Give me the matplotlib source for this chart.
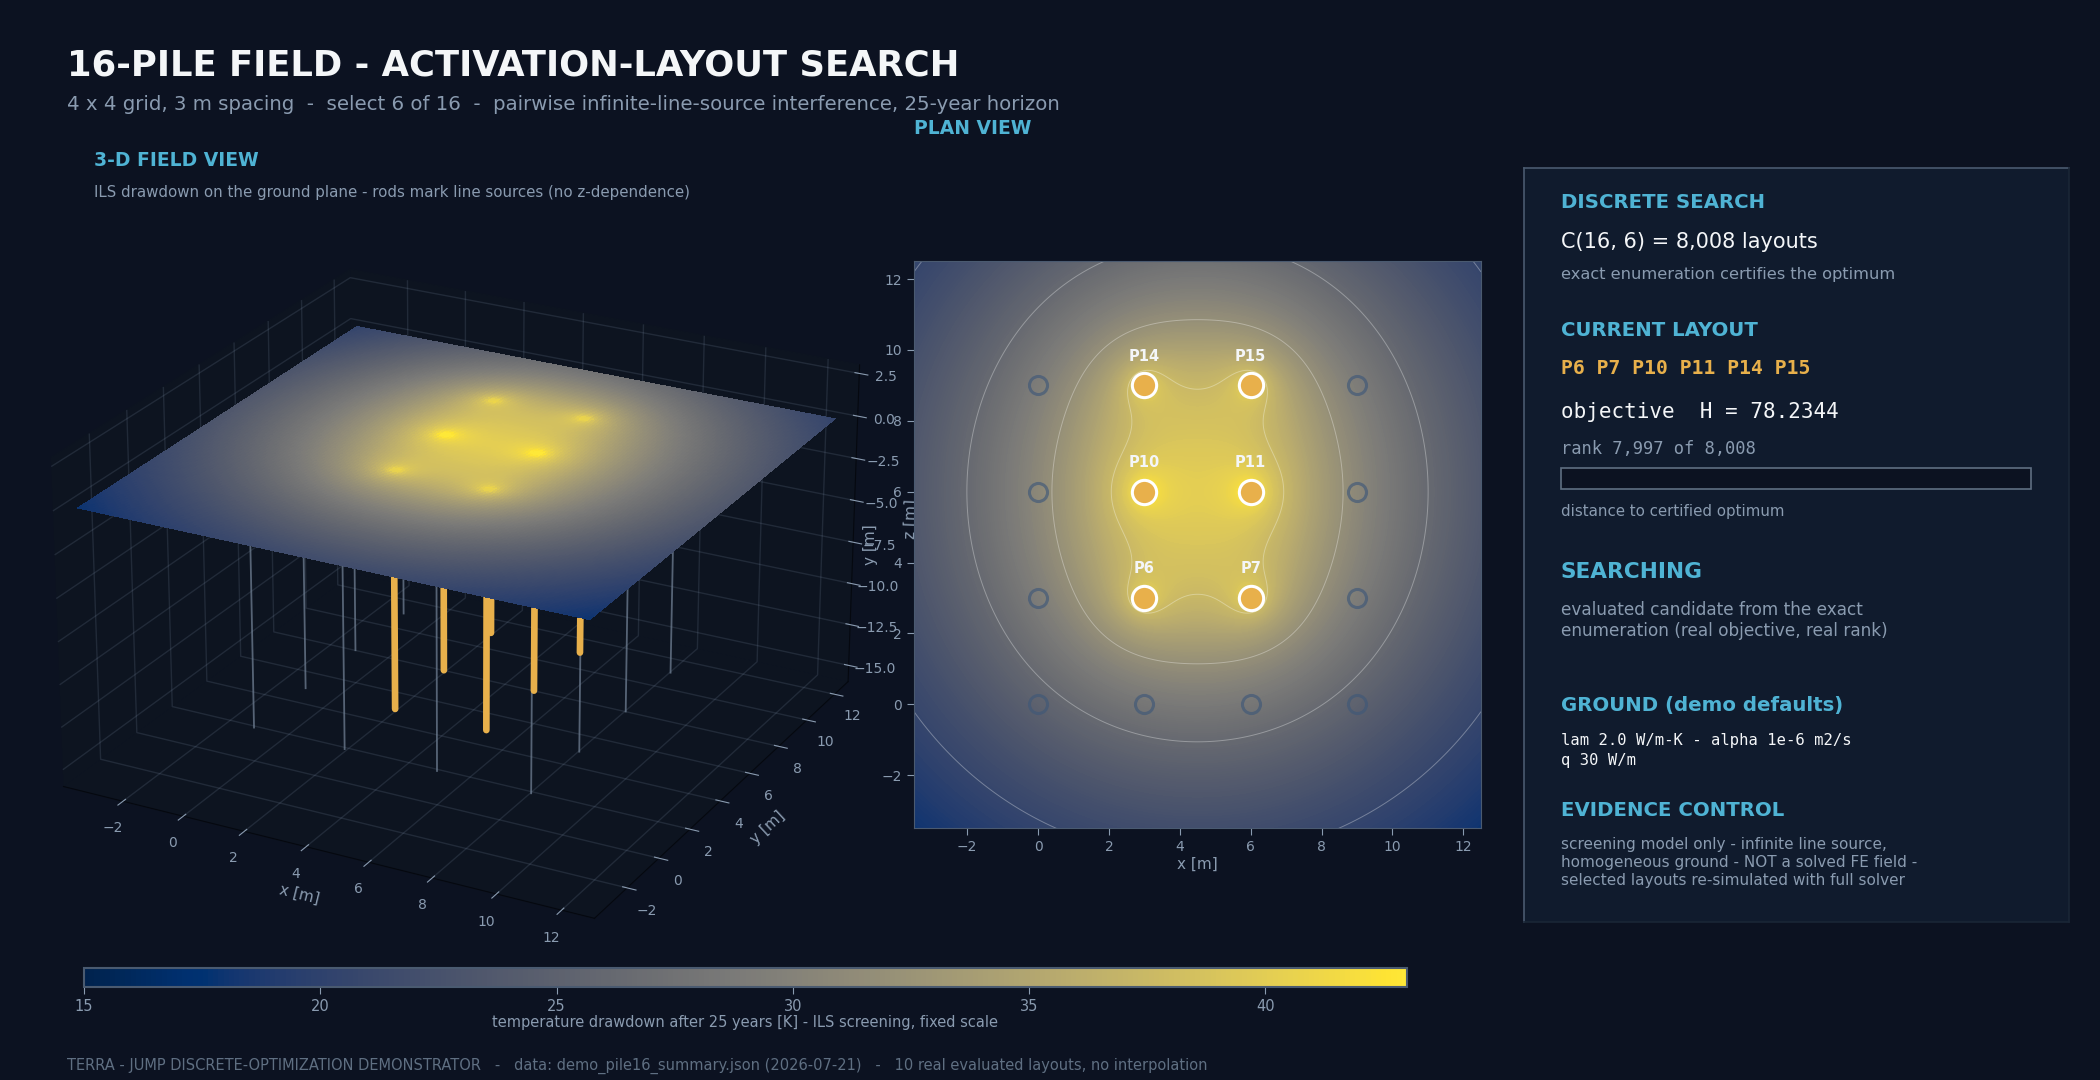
import numpy as np
import matplotlib
matplotlib.use("Agg")
import matplotlib.pyplot as plt
from matplotlib.cm import ScalarMappable
from matplotlib.colors import Normalize
from matplotlib.lines import Line2D
from matplotlib.patches import Rectangle

# ---- data ----
grid_x = [0, 3, 6, 9]
grid_y = [0, 3, 6, 9]
active_names = ["P6", "P7", "P10", "P11", "P14", "P15"]
active_x = [3, 6, 3, 6, 3, 6]
active_y = [3, 3, 6, 6, 9, 9]
lam = 2.0          # W/m-K, printed in the panel
alpha_g = 1e-6     # m2/s, printed in the panel
q = 30.0           # W/m, printed in the panel
years = 25         # printed in the subtitle
r_pile = 0.15      # estimated so the peak meets the top of the colour scale
vmin, vmax = 15.0, 43.0
cbar_ticks = [15, 20, 25, 30, 35, 40]
rod_bottom = -14.0
z_ticks = [-15, -12.5, -10, -7.5, -5, -2.5, 0, 2.5]
xy_ticks = [-2, 0, 2, 4, 6, 8, 10, 12]

BG = "#0c1221"; PANEL = "#101b2d"; ACC = "#4fb3d4"; ORG = "#e8b04b"
TXT = "#8a9bb0"; WHITE = "#f4f6f8"; EDGE = "#4a5a70"; DIM = "#5f6f82"

W, H = 2100, 1080
fig = plt.figure(figsize=(21, 10.8), dpi=100, facecolor=BG)
def fx(p): return p / W
def fy(p): return 1 - p / H
def T(px, py, s, **k):
    k.setdefault("va", "center"); k.setdefault("ha", "left")
    fig.text(fx(px), fy(py), s, **k)

# ILS field as defined by the chart's own stated model
def e1(u):
    return -0.5772156649 - np.log(u) + u - u**2 / 4 + u**3 / 18
xs = np.linspace(-3.5, 12.5, 321)
X, Y = np.meshgrid(xs, xs)
t_sec = years * 365.25 * 86400
F = np.zeros_like(X)
for ax_, ay_ in zip(active_x, active_y):
    r = np.maximum(np.hypot(X - ax_, Y - ay_), r_pile)
    F += q / (4 * np.pi * lam) * e1(r**2 / (4 * alpha_g * t_sec))
cmap = plt.get_cmap("cividis")
norm = Normalize(vmin, vmax)

# ---- 3D view ----
ax3 = fig.add_axes([0.0067, 0.0511, 0.418, 0.813], projection="3d", computed_zorder=False)
ax3.set_facecolor(BG)
ax3.set_box_aspect((1, 1, 0.6))
ax3.view_init(elev=24, azim=-62)
for x in grid_x:
    for y in grid_y:
        ax3.plot([x, x], [y, y], [rod_bottom, 0], color="#6f7f93", lw=1.3, alpha=0.75, zorder=1)
for x, y in zip(active_x, active_y):
    ax3.plot([x, x], [y, y], [rod_bottom, 0], color=ORG, lw=4.8, solid_capstyle="round", zorder=2)
ax3.plot_surface(X, Y, np.zeros_like(X), facecolors=cmap(norm(F)), rstride=2, cstride=2,
                 shade=False, linewidth=0, antialiased=False, zorder=3)
ax3.set_xlim(-4, 13); ax3.set_ylim(-4, 13); ax3.set_zlim(-16, 3)
ax3.set_xticks(xy_ticks); ax3.set_yticks(xy_ticks); ax3.set_zticks(z_ticks)
ax3.tick_params(colors=TXT, labelsize=10)
for a, l in ((ax3.xaxis, "x [m]"), (ax3.yaxis, "y [m]"), (ax3.zaxis, "z [m]")):
    a.set_pane_color((0.051, 0.078, 0.125, 1))
    a.line.set_color("#05080f")
    a._axinfo["grid"].update(color=(0.55, 0.62, 0.72, 0.16), linewidth=1.0)
    a._axinfo["tick"]["color"] = "#c8d2de"
    a.set_label_text(l, color=TXT, fontsize=11)

# ---- plan view ----
ax = fig.add_axes([fx(914), fy(828.4), 567 / W, 567 / H])
ax.set_facecolor(PANEL)
ax.contourf(X, Y, F, levels=np.linspace(vmin, vmax, 225), cmap=cmap, norm=norm, extend="both")
ax.contour(X, Y, F, levels=np.linspace(vmin, vmax, 6)[1:-1], colors="white", linewidths=0.7, alpha=0.32)
for x in grid_x:
    for y in grid_y:
        if not any(x == a and y == b for a, b in zip(active_x, active_y)):
            ax.plot(x, y, "o", ms=13, mfc="none", mec="#3f5878", mew=2.2, alpha=0.65)
for n, x, y in zip(active_names, active_x, active_y):
    ax.plot(x, y, "o", ms=17.5, mfc=ORG, mec="white", mew=2.2)
    ax.annotate(n, (x, y), xytext=(0, 21), textcoords="offset points", ha="center", va="center",
                color=WHITE, fontsize=10.5, fontweight="bold")
ax.set_xlim(-3.5, 12.5); ax.set_ylim(-3.5, 12.5)
ax.set_xticks(xy_ticks); ax.set_yticks(xy_ticks)
ax.tick_params(colors=TXT, labelsize=10, length=5)
ax.set_xlabel("x [m]", color=TXT, fontsize=11, labelpad=2)
ax.set_ylabel("y [m]", color=TXT, fontsize=11, labelpad=3)
for s in ax.spines.values():
    s.set_color(EDGE)

# ---- colour bar ----
cax = fig.add_axes([fx(84), fy(987), 1323 / W, 19 / H])
cb = fig.colorbar(ScalarMappable(norm, cmap), cax=cax, orientation="horizontal")
cb.set_ticks(cbar_ticks)
cb.ax.tick_params(colors=TXT, labelsize=10.5, length=5)
cb.outline.set_edgecolor(EDGE); cb.outline.set_linewidth(1.5)
T(745, 1022, "temperature drawdown after 25 years [K] - ILS screening, fixed scale",
  color=TXT, fontsize=10.5, ha="center")

# ---- headings ----
T(67, 65.5, "16-PILE FIELD - ACTIVATION-LAYOUT SEARCH", color=WHITE, fontsize=25.5, fontweight="bold")
T(67, 104, "4 x 4 grid, 3 m spacing  -  select 6 of 16  -  pairwise infinite-line-source interference, 25-year horizon",
  color=TXT, fontsize=14.2)
T(914, 129, "PLAN VIEW", color=ACC, fontsize=13.5, fontweight="bold")
T(94, 160.5, "3-D FIELD VIEW", color=ACC, fontsize=13.5, fontweight="bold")
T(94, 192, "ILS drawdown on the ground plane - rods mark line sources (no z-dependence)", color=TXT, fontsize=10.8)
T(67, 1066, "TERRA - JUMP DISCRETE-OPTIMIZATION DEMONSTRATOR   -   data: demo_pile16_summary.json (2026-07-21)   -   10 real evaluated layouts, no interpolation",
  color=DIM, fontsize=10.5)

# ---- side panel ----
fig.add_artist(Rectangle((fx(1523.5), fy(922)), 545.5 / W, 754 / H, transform=fig.transFigure,
                         facecolor=PANEL, edgecolor="none"))
for xa, ya, c in (([1523.5, 1523.5], [922, 168], EDGE), ([1523.5, 2069], [168, 168], EDGE),
                  ([2069, 2069], [168, 922], "#1a2636"), ([1523.5, 2069], [922, 922], "#1a2636")):
    fig.add_artist(Line2D([fx(v) for v in xa], [fy(v) for v in ya], color=c, lw=1.2))
L = 1561
T(L, 202.5, "DISCRETE SEARCH", color=ACC, fontsize=14.2, fontweight="bold")
T(L, 241.5, "C(16, 6) = 8,008 layouts", color=WHITE, fontsize=15)
T(L, 274, "exact enumeration certifies the optimum", color=TXT, fontsize=11.7)
T(L, 331, "CURRENT LAYOUT", color=ACC, fontsize=14.2, fontweight="bold")
T(L, 368.5, "P6 P7 P10 P11 P14 P15", color=ORG, fontsize=14.2, fontweight="bold", family="DejaVu Sans Mono")
T(L, 412, "objective  H = 78.2344", color=WHITE, fontsize=15, family="DejaVu Sans Mono")
T(L, 449, "rank 7,997 of 8,008", color=TXT, fontsize=12.3, family="DejaVu Sans Mono")
fig.add_artist(Rectangle((fx(L), fy(489)), 470 / W, 21 / H, transform=fig.transFigure,
                         facecolor=BG, edgecolor=DIM, lw=1.2))
T(L, 511.5, "distance to certified optimum", color=TXT, fontsize=10.8)
T(L, 572.5, "SEARCHING", color=ACC, fontsize=15.6, fontweight="bold")
T(L, 610, "evaluated candidate from the exact", color=TXT, fontsize=12.2)
T(L, 631, "enumeration (real objective, real rank)", color=TXT, fontsize=12.2)
T(L, 705.5, "GROUND (demo defaults)", color=ACC, fontsize=14.2, fontweight="bold")
T(L, 740, "lam 2.0 W/m-K - alpha 1e-6 m2/s", color=WHITE, fontsize=11.2, family="DejaVu Sans Mono")
T(L, 761, "q 30 W/m", color=WHITE, fontsize=11.2, family="DejaVu Sans Mono")
T(L, 810.5, "EVIDENCE CONTROL", color=ACC, fontsize=14.2, fontweight="bold")
T(L, 844.5, "screening model only - infinite line source,", color=TXT, fontsize=11)
T(L, 862, "homogeneous ground - NOT a solved FE field -", color=TXT, fontsize=11)
T(L, 880, "selected layouts re-simulated with full solver", color=TXT, fontsize=11)

fig.savefig("out.png", dpi=100, facecolor=BG)
